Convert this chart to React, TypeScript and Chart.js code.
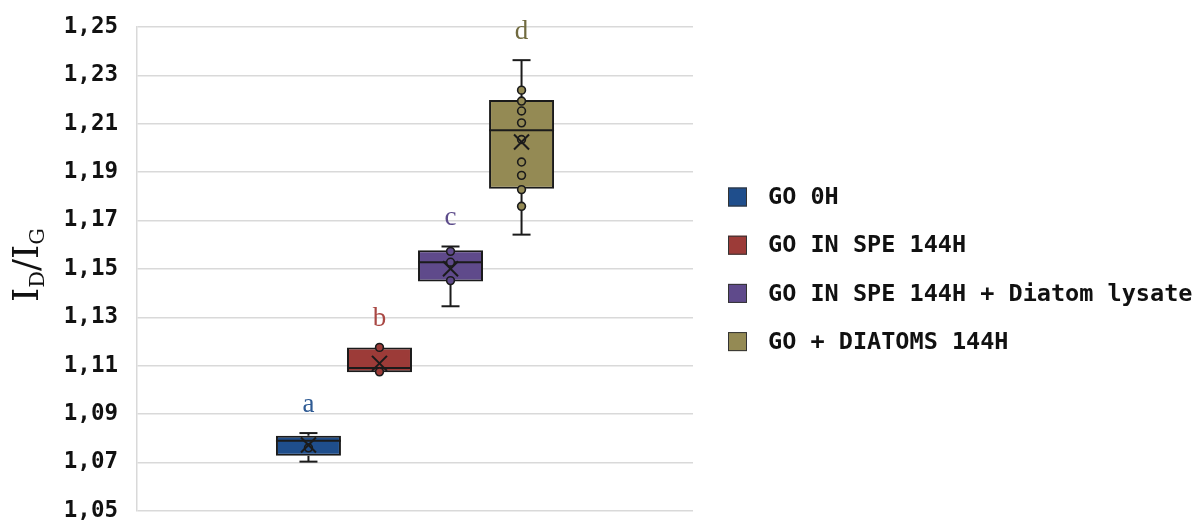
import React, { useEffect, useRef } from "react";
import { Chart, registerables } from "chart.js";

Chart.register(...registerables);

const seriesNames = [
  "GO 0H",
  "GO IN SPE 144H",
  "GO IN SPE 144H + Diatom lysate",
  "GO + DIATOMS 144H",
];
const groupLetters = ["a", "b", "c", "d"];
const q1Values = [1.0728, 1.1073, 1.1448, 1.1832];
const q3Values = [1.0811, 1.1176, 1.1577, 1.2198];
const medianValues = [1.079, 1.1091, 1.1528, 1.2073];
const minValues = [1.0704, 1.1073, 1.1346, 1.1642];
const maxValues = [1.0822, 1.1176, 1.1593, 1.2363];
const meanValues = [1.0773, 1.111, 1.1501, 1.2025];
const innerPoints = [
  [1.0761],
  [1.1176, 1.1075],
  [1.1573, 1.1528, 1.1452],
  [1.2239, 1.2194, 1.2153, 1.2104, 1.2035, 1.1942, 1.1887, 1.1828, 1.1759],
];
const yTickMin = 1.05;
const yTickMax = 1.25;
const yTickStep = 0.02;

const boxColors = ["#1F4E8C", "#9C3B38", "#5F4A8B", "#948A54"];
const letterColors = ["#2F5B94", "#A94844", "#5C4B8A", "#716B40"];
const edgeColor = "#1b1b1b";

const extrasPlugin = {
  id: "boxExtras",
  afterDatasetsDraw(chart: any) {
    const ctx = chart.ctx;
    const ys = chart.scales.y;
    const py = (v: number) => ys.getPixelForValue(v);
    const line = (x1: number, y1: number, x2: number, y2: number) => {
      ctx.beginPath();
      ctx.moveTo(x1, y1);
      ctx.lineTo(x2, y2);
      ctx.stroke();
    };
    seriesNames.forEach((_, i) => {
      const bar = chart.getDatasetMeta(i).data[0];
      const cx = bar.x;
      const half = bar.width / 2;
      ctx.save();
      ctx.strokeStyle = edgeColor;
      ctx.lineWidth = 2;
      line(cx - half, py(medianValues[i]), cx + half, py(medianValues[i]));
      const cap = 9;
      if (maxValues[i] > q3Values[i]) {
        line(cx, py(q3Values[i]), cx, py(maxValues[i]));
        line(cx - cap, py(maxValues[i]), cx + cap, py(maxValues[i]));
      }
      if (minValues[i] < q1Values[i]) {
        line(cx, py(q1Values[i]), cx, py(minValues[i]));
        line(cx - cap, py(minValues[i]), cx + cap, py(minValues[i]));
      }
      ctx.lineWidth = 1.6;
      innerPoints[i].forEach((p) => {
        ctx.beginPath();
        ctx.arc(cx, py(p), 3.9, 0, Math.PI * 2);
        ctx.fillStyle = boxColors[i];
        ctx.fill();
        ctx.stroke();
      });
      ctx.lineWidth = 2;
      const my = py(meanValues[i]);
      const s = 7.5;
      line(cx - s, my - s, cx + s, my + s);
      line(cx - s, my + s, cx + s, my - s);
      ctx.font = '27px "Liberation Serif"';
      ctx.fillStyle = letterColors[i];
      ctx.textAlign = "center";
      ctx.textBaseline = "alphabetic";
      ctx.fillText(groupLetters[i], cx, py(maxValues[i]) - 21);
      ctx.restore();
    });
  },
  afterDraw(chart: any) {
    const ctx = chart.ctx;
    ctx.save();
    const lx = 728;
    const ly0 = 197;
    const gap = 48.2;
    ctx.font = 'bold 23.5px "DejaVu Sans Mono"';
    ctx.textBaseline = "middle";
    ctx.textAlign = "left";
    seriesNames.forEach((name, i) => {
      const cy = ly0 + i * gap;
      ctx.fillStyle = boxColors[i];
      ctx.fillRect(lx, cy - 9.5, 19, 19);
      ctx.strokeStyle = "#333";
      ctx.lineWidth = 1;
      ctx.strokeRect(lx + 0.5, cy - 9, 18, 18);
      ctx.fillStyle = "#111";
      ctx.fillText(name, 768, cy + 1);
    });
    ctx.translate(38, 265);
    ctx.rotate(-Math.PI / 2);
    ctx.fillStyle = "#111";
    ctx.textBaseline = "alphabetic";
    const big = '36px "DejaVu Serif"';
    const small = '21px "DejaVu Serif"';
    const parts: [string, string, number][] = [
      ["I", big, 0],
      ["D", small, 6],
      ["/", big, 0],
      ["I", big, 0],
      ["G", small, 6],
    ];
    let total = 0;
    parts.forEach(([t, f]) => {
      ctx.font = f;
      total += ctx.measureText(t).width;
    });
    let x = -total / 2;
    parts.forEach(([t, f, dy]) => {
      ctx.font = f;
      ctx.fillText(t, x, dy);
      x += ctx.measureText(t).width;
    });
    ctx.restore();
  },
};

export default function App() {
  const ref = useRef<HTMLCanvasElement | null>(null);
  useEffect(() => {
    if (!ref.current) return;
    const chart = new Chart(ref.current, {
      type: "bar",
      data: {
        labels: [""],
        datasets: seriesNames.map((name, i) => ({
          label: name,
          data: [[q1Values[i], q3Values[i]]] as any,
          backgroundColor: boxColors[i],
          borderColor: edgeColor,
          borderWidth: 2,
          borderSkipped: false,
          categoryPercentage: 0.511,
          barPercentage: 0.915,
        })),
      },
      options: {
        responsive: false,
        animation: false,
        devicePixelRatio: 1,
        events: [],
        layout: { padding: { left: 0, top: 27, right: 509, bottom: 10 } },
        plugins: {
          legend: { display: false },
          tooltip: { enabled: false },
          title: { display: false },
        },
        scales: {
          x: { display: false },
          y: {
            min: yTickMin,
            max: yTickMax,
            afterFit: (s: any) => {
              s.width = 137;
              s.paddingTop = 0;
              s.paddingBottom = 0;
            },
            ticks: {
              stepSize: yTickStep,
              padding: 19,
              color: "#111",
              font: { family: "DejaVu Sans Mono", weight: "bold", size: 22.5 },
              callback: (v: any) => Number(v).toFixed(2).replace(".", ","),
            },
            grid: { color: "#d9d9d9", lineWidth: 1.5, drawTicks: false },
            border: { color: "#d9d9d9", width: 1.5 },
          },
        },
      },
      plugins: [extrasPlugin],
    });
    return () => chart.destroy();
  }, []);
  return (
    <div style={{ position: "fixed", left: 0, top: 0, width: 1202, height: 521, background: "#fff" }}>
      <canvas ref={ref} width={1202} height={521} />
    </div>
  );
}
